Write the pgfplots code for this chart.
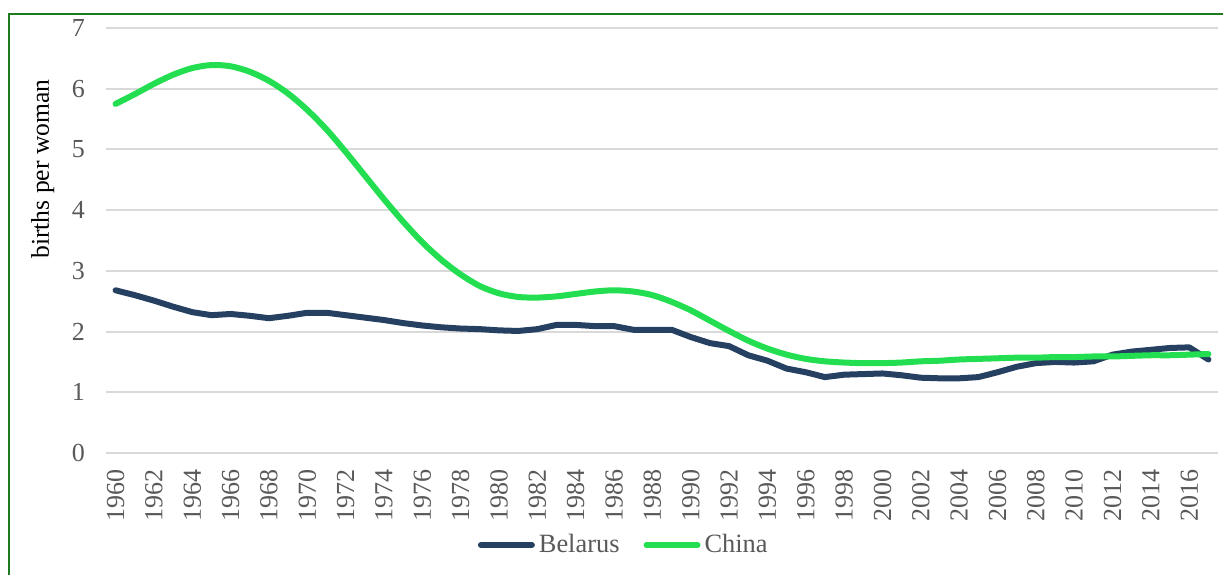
\documentclass[border=0pt]{standalone}
\usepackage{fontspec}
\setmainfont{Liberation Serif}
\usepackage{pgfplots}
\pgfplotsset{compat=1.18}
\definecolor{belarus}{RGB}{38,64,98}
\definecolor{china}{RGB}{34,222,80}
\definecolor{gridc}{RGB}{217,217,217}
\definecolor{ticktext}{RGB}{89,89,89}
\definecolor{framec}{RGB}{30,122,30}
\begin{document}
\begin{tikzpicture}
\useasboundingbox (0,0) rectangle (611.5pt,287pt);
\draw[framec, line width=0.8pt] (4.5pt,-2pt) -- (4.5pt,280pt) -- (613pt,280pt);
\begin{axis}[
  at={(53pt,60.5pt)}, anchor=south west,
  width=556pt, height=212.5pt, scale only axis,
  xmin=1959.5, xmax=2017.5, ymin=0, ymax=7,
  axis line style={draw=none},
  major tick length=0pt,
  ytick={0,1,...,7},
  xtick={1960,1962,...,2016},
  ymajorgrids, grid style={gridc, line width=1pt},
  /pgf/number format/assume math mode=true,
  /pgf/number format/1000 sep={},
  tick label style={font=\fontsize{13}{15}\selectfont, text=ticktext},
  yticklabel style={xshift=-7pt},
  xticklabel style={rotate=90, anchor=east, yshift=0pt, xshift=-4.5pt},
  ylabel={births per woman},
  ylabel style={font=\fontsize{12.8}{15}\selectfont, at={(axis description cs:-0.057,0.668)}, anchor=center, rotate=0},
  legend columns=2,
  legend style={draw=none, fill=none, at={(axis description cs:0.4665,-0.2165)}, anchor=center,
    font=\fontsize{13.2}{15}\selectfont, text=ticktext,
    /tikz/every even column/.append style={column sep=10pt}},
  legend image code/.code={\draw[#1, line cap=round] (-1pt,0pt) -- (24.5pt,0pt);},
  clip=false,
]
\addplot[belarus, line width=3pt, line join=round, line cap=round] coordinates {
(1960,2.68)(1961,2.60)(1962,2.51)(1963,2.41)(1964,2.32)(1965,2.27)(1966,2.29)(1967,2.26)(1968,2.22)(1969,2.26)
(1970,2.31)(1971,2.31)(1972,2.27)(1973,2.23)(1974,2.19)(1975,2.14)(1976,2.10)(1977,2.07)(1978,2.05)(1979,2.04)
(1980,2.02)(1981,2.01)(1982,2.04)(1983,2.11)(1984,2.11)(1985,2.09)(1986,2.09)(1987,2.03)(1988,2.03)(1989,2.03)
(1990,1.91)(1991,1.81)(1992,1.76)(1993,1.61)(1994,1.52)(1995,1.39)(1996,1.33)(1997,1.25)(1998,1.29)(1999,1.30)
(2000,1.31)(2001,1.28)(2002,1.24)(2003,1.23)(2004,1.23)(2005,1.25)(2006,1.33)(2007,1.42)(2008,1.48)(2009,1.50)
(2010,1.49)(2011,1.51)(2012,1.62)(2013,1.67)(2014,1.70)(2015,1.73)(2016,1.74)(2017,1.54)
};
\addlegendentry{Belarus}
\addplot[china, line width=3pt, smooth, line cap=round] coordinates {
(1960,5.75)(1961,5.91)(1962,6.08)(1963,6.23)(1964,6.34)(1965,6.39)(1966,6.37)(1967,6.28)(1968,6.13)(1969,5.92)
(1970,5.65)(1971,5.33)(1972,4.96)(1973,4.57)(1974,4.18)(1975,3.81)(1976,3.47)(1977,3.18)(1978,2.94)(1979,2.75)
(1980,2.63)(1981,2.57)(1982,2.56)(1983,2.58)(1984,2.62)(1985,2.66)(1986,2.68)(1987,2.66)(1988,2.60)(1989,2.49)
(1990,2.35)(1991,2.18)(1992,2.01)(1993,1.85)(1994,1.72)(1995,1.62)(1996,1.55)(1997,1.51)(1998,1.49)(1999,1.48)
(2000,1.48)(2001,1.49)(2002,1.51)(2003,1.52)(2004,1.54)(2005,1.55)(2006,1.56)(2007,1.57)(2008,1.57)(2009,1.58)
(2010,1.58)(2011,1.59)(2012,1.59)(2013,1.60)(2014,1.61)(2015,1.61)(2016,1.62)(2017,1.63)
};
\addlegendentry{China}
\end{axis}
\end{tikzpicture}
\end{document}
